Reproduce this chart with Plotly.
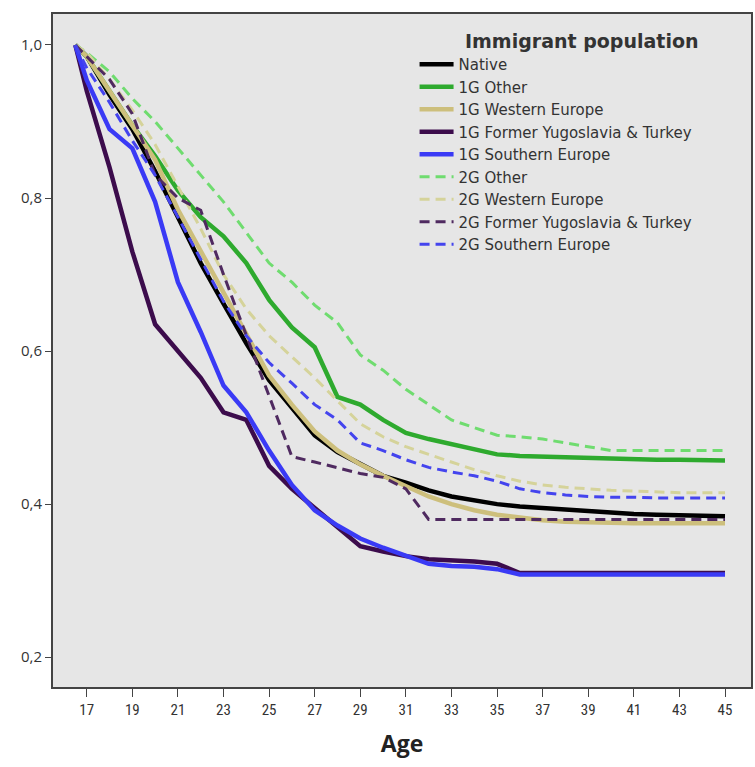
import plotly.graph_objects as go

ages = [16.5] + list(range(17, 46))

native = [1.0, 0.985, 0.935, 0.89, 0.835, 0.775, 0.715, 0.662, 0.61, 0.562, 0.525, 0.49, 0.468, 0.452,
          0.437, 0.428, 0.418, 0.41, 0.405, 0.40, 0.397, 0.395, 0.392, 0.39, 0.388, 0.387, 0.386,
          0.385, 0.385, 0.384]
g1_other = [1.0, 0.985, 0.94, 0.895, 0.855, 0.81, 0.775, 0.75, 0.715, 0.667, 0.631, 0.605, 0.54, 0.53,
            0.51, 0.493, 0.485, 0.478, 0.472, 0.465, 0.463, 0.462, 0.461, 0.46, 0.46, 0.459, 0.458,
            0.458, 0.457, 0.457]
g1_western = [1.0, 0.985, 0.94, 0.895, 0.85, 0.785, 0.73, 0.675, 0.62, 0.568, 0.53, 0.495, 0.47, 0.452,
              0.437, 0.423, 0.41, 0.40, 0.392, 0.386, 0.382, 0.379, 0.377, 0.376, 0.375, 0.375, 0.375,
              0.375, 0.375, 0.375]
g1_yugo = [1.0, 0.94, 0.84, 0.73, 0.635, 0.60, 0.565, 0.52, 0.51, 0.45, 0.42, 0.395, 0.37, 0.345,
           0.338, 0.332, 0.328, 0.327, 0.325, 0.322, 0.31, 0.31, 0.31, 0.31, 0.31, 0.31, 0.31,
           0.31, 0.31, 0.31]
g1_southern = [1.0, 0.954, 0.89, 0.865, 0.795, 0.69, 0.625, 0.555, 0.52, 0.47, 0.425, 0.392, 0.372, 0.355,
               0.343, 0.332, 0.322, 0.319, 0.318, 0.315, 0.308, 0.308, 0.308, 0.308, 0.308, 0.308, 0.308,
               0.308, 0.308, 0.308]
g2_other = [1.0, 0.99, 0.965, 0.93, 0.90, 0.865, 0.83, 0.795, 0.755, 0.715, 0.69, 0.66, 0.637, 0.595,
            0.575, 0.55, 0.53, 0.51, 0.50, 0.49, 0.488, 0.485, 0.48, 0.475, 0.47, 0.47, 0.47,
            0.47, 0.47, 0.47]
g2_western = [1.0, 0.99, 0.955, 0.915, 0.87, 0.815, 0.76, 0.70, 0.655, 0.62, 0.593, 0.565, 0.535, 0.505,
              0.488, 0.475, 0.465, 0.455, 0.445, 0.437, 0.43, 0.425, 0.422, 0.42, 0.418, 0.417, 0.416,
              0.415, 0.415, 0.415]
g2_yugo = [1.0, 0.985, 0.955, 0.91, 0.83, 0.80, 0.784, 0.70, 0.62, 0.54, 0.462, 0.455, 0.448, 0.44,
           0.435, 0.42, 0.38, 0.38, 0.38, 0.38, 0.38, 0.38, 0.38, 0.38, 0.38, 0.38, 0.38,
           0.38, 0.38, 0.38]
g2_southern = [1.0, 0.97, 0.925, 0.875, 0.83, 0.775, 0.72, 0.665, 0.62, 0.585, 0.558, 0.53, 0.51, 0.48,
               0.47, 0.458, 0.448, 0.442, 0.437, 0.43, 0.42, 0.415, 0.412, 0.41, 0.409, 0.409, 0.408,
               0.408, 0.408, 0.408]

series = [
    ("Native", native, "#000000", "solid", 4.5),
    ("1G Other", g1_other, "#2eaa2e", "solid", 4.5),
    ("1G Western Europe", g1_western, "#cdbf7c", "solid", 4.5),
    ("1G Former Yugoslavia & Turkey", g1_yugo, "#3c0c4c", "solid", 4.5),
    ("1G Southern Europe", g1_southern, "#3a3af5", "solid", 4.5),
    ("2G Other", g2_other, "#6fdc6f", "10px,6px", 3),
    ("2G Western Europe", g2_western, "#d5d39a", "10px,6px", 3),
    ("2G Former Yugoslavia & Turkey", g2_yugo, "#4f2a60", "10px,6px", 3),
    ("2G Southern Europe", g2_southern, "#4444ee", "10px,6px", 3),
]

y_ticks = [0.2, 0.4, 0.6, 0.8, 1.0]
x_ticks = list(range(17, 46, 2))

fig = go.Figure()
for name, vals, color, dash, w in series:
    fig.add_trace(go.Scatter(x=ages, y=vals, mode="lines", name=name,
                             line=dict(color=color, width=w, dash=dash)))

fig.update_layout(
    width=755, height=767,
    margin=dict(l=53, r=2, t=14, b=80),
    paper_bgcolor="white",
    plot_bgcolor="#e6e6e6",
    separators=",.",
    font=dict(family="DejaVu Sans, sans-serif", color="#333333", size=14),
    showlegend=True,
    legend=dict(
        x=0.518, y=0.986, xanchor="left", yanchor="top",
        bgcolor="rgba(0,0,0,0)",
        font=dict(family="DejaVu Sans, sans-serif", size=15, color="#333333"),
        title=dict(text="&nbsp;&nbsp;&nbsp;&nbsp;&nbsp;&nbsp;&nbsp;&nbsp;<b>Immigrant population</b>",
                   side="top center",
                   font=dict(family="DejaVu Sans, sans-serif", size=19, color="#333333")),
        tracegroupgap=0, itemwidth=34,
    ),
    xaxis=dict(
        range=[15.52, 46.14], tickmode="array", tickvals=x_ticks,
        ticktext=[str(t) for t in x_ticks],
        showgrid=False, zeroline=False, ticks="outside", ticklen=8,
        tickcolor="#444444", showline=True, linecolor="#444444", linewidth=2,
        mirror=True,
        tickfont=dict(family="Liberation Sans Narrow, Roboto Condensed, Liberation Sans, sans-serif",
                      size=15, color="#333333"),
        title=dict(text="<b>Age</b>", font=dict(family="Open Sans, DejaVu Sans, sans-serif",
                                                size=23, color="#222222"), standoff=18),
    ),
    yaxis=dict(
        range=[0.161, 1.0405], tickmode="array", tickvals=y_ticks,
        tickformat=".1f",
        showgrid=False, zeroline=False, ticks="outside", ticklen=6,
        tickcolor="#444444", showline=True, linecolor="#444444", linewidth=2,
        mirror=True, tickfont=dict(family="Open Sans, DejaVu Sans, sans-serif", size=15, color="#333333"),
    ),
)

fig.write_html("out.html")
